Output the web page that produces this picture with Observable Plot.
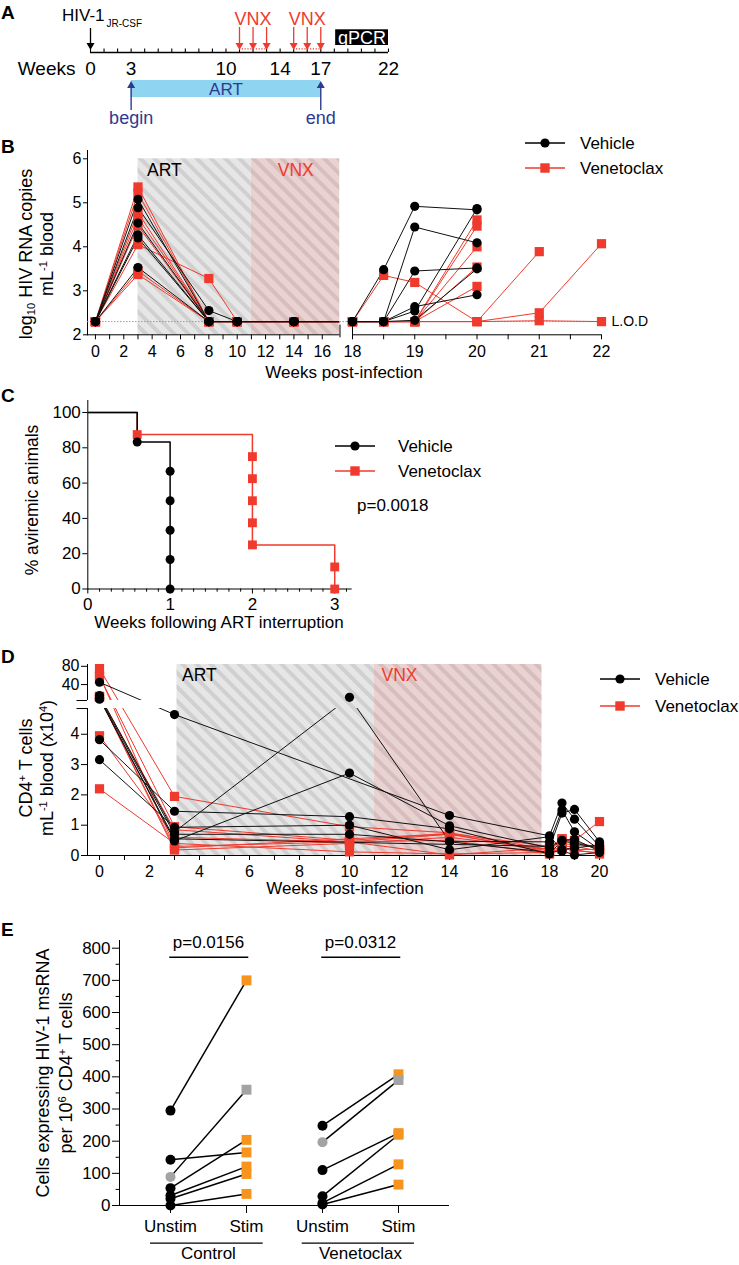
<!DOCTYPE html>
<html>
<head>
<meta charset="utf-8">
<script src="https://cdn.jsdelivr.net/npm/d3@7"></script>
<script src="https://cdn.jsdelivr.net/npm/@observablehq/plot@0.6"></script>
<style>
  html, body { margin: 0; padding: 0; background: #fff; }
  #page { position: relative; width: 739px; height: 1265px; overflow: hidden; background: #fff;
          font-family: "Liberation Sans", Arial, Helvetica, sans-serif; color: #000; }
  #page sup, #page sub { font-size: 0.62em; line-height: 0; position: relative; vertical-align: baseline; }
  #page sup { top: -0.55em; }
  #page sub { top: 0.3em; }
</style>
</head>
<body>
<div id="page"></div>
<script>
// ================= DATA =================
// ---- Panel A: study timeline (weeks) ----
const timelineTickWeeks = d3.range(0, 23);
const timelineLabelWeeks = [0, 3, 10, 14, 17, 22];
const infectionWeek = [0];
const vnxDoseWeeks = [11, 12, 13, 15, 16, 17];
const vnxCycles = [[11, 13], [15, 17]];
const artWindow = [3, 17];
const artWindowLabels = ["begin", "end"];
const qpcrWindow = [18.1, 22];

// ---- Panel B: log10 HIV RNA copies / mL blood ----
const bWeeks = [0, 3, 8, 10, 14, 18, 18.5, 19, 20, 21, 22];
const bVehicle = [
  [2.3, 5.08, 2.3, 2.3, 2.3, 2.3, 3.48, 4.92, 4.84, null, null],
  [2.3, 4.89, 2.55, 2.3, 2.3, 2.3, 2.3, 4.45, 4.09, null, null],
  [2.3, 4.54, 2.3, 2.3, 2.3, 2.3, 2.3, 3.45, 3.52, null, null],
  [2.3, 4.27, 2.3, 2.3, 2.3, 2.3, 2.3, 2.64, 2.91, null, null],
  [2.3, 4.20, 2.3, 2.3, 2.3, 2.3, 2.3, 2.54, 4.87, null, null],
  [2.3, 3.53, 2.3, 2.3, 2.3, 2.3, 2.3, 2.33, 3.50, null, null]
];
const bVenetoclax = [
  [2.3, 5.36, 2.3, 2.3, 2.3, 2.3, 2.3, 2.3, 4.61, null, null],
  [2.3, 5.22, 2.3, 2.3, 2.3, 2.3, 2.3, 2.3, 4.47, null, null],
  [2.3, 4.78, 2.3, 2.3, 2.3, 2.3, 2.3, 2.3, 4.00, null, null],
  [2.3, 4.66, 2.3, 2.3, 2.3, 2.3, 2.3, 2.3, 3.54, null, null],
  [2.3, 4.05, 3.28, 2.3, 2.3, 2.3, 2.3, 2.3, 3.10, null, null],
  [2.3, 4.48, 2.3, 2.3, 2.3, 2.3, 3.35, 3.19, 2.3, 2.32, 2.3],
  [2.3, 3.45, 2.3, 2.3, 2.3, 2.3, 2.3, 2.3, 2.3, 3.89, null],
  [2.3, 3.37, 2.3, 2.3, 2.3, 2.3, 2.3, 2.3, 2.3, 2.50, 4.07]
];
const bLOD = 2.3;
const bArtPeriod = [3, 11];
const bVnxPeriod = [11, 17.25];
const bYTicks = [2, 3, 4, 5, 6];
const bXTicks = [...d3.range(0, 17), ...d3.range(18, 22.01, 0.5)];

// ---- Panel C: % aviremic animals after ART interruption ----
const cVehicle = [[0, 100], [0.6, 83.3], [1, 66.7], [1, 50], [1, 33.3], [1, 16.7], [1, 0]];
const cVenetoclax = [[0, 100], [0.6, 87.5], [2, 75], [2, 62.5], [2, 50], [2, 37.5], [2, 25], [3, 12.5], [3, 0]];
const cXTicks = [0, 1, 2, 3];
const cYTicks = [0, 20, 40, 60, 80, 100];
const cDayTicks = d3.range(1, 23).filter(i => i % 7 !== 0).map(i => i / 7);
const cPValue = "p=0.0018";

// ---- Panel D: CD4+ T cells / mL blood (x10^4) ----
const dWeeks = [0, 3, 10, 14, 18, 18.5, 19, 20];
const dVehicle = [
  [45, 4.65, null, 1.32, 0.65, 1.73, 1.20, 0.30],
  [16, 0.78, 12, 0.47, 0.45, 1.50, 0.78, 0.20],
  [10, 0.48, 2.72, 0.98, 0.25, 1.40, 1.52, 0.45],
  [3.82, 1.46, 1.28, 0.88, 0.05, 0.50, 0.53, 0.15],
  [3.16, 0.93, 1.00, 0.19, 0.62, 0.20, 0.25, 0.35],
  [12, 0.70, 0.70, 0.45, 0.10, 0.15, 0.02, 0.10],
  [8, 0.55, null, null, 0.30, 0.48, 0.40, 0.25]
];
const dVenetoclax = [
  [75, 1.95, 0.95, 0.75, 0.20, 0.55, 0.50, 1.12],
  [58, 0.95, 0.50, 0.72, 0.10, 0.25, 0.20, 0.20],
  [14, 0.85, 0.45, 0.02, 0.25, 0.55, 0.45, 0.20],
  [3.95, 0.60, 0.45, 0.70, 0.15, 0.30, 0.30, 0.15],
  [2.2, 0.40, 0.12, 0.05, 0.10, 0.20, 0.20, 0.05],
  [13, 0.25, 0.55, 0.72, 0.30, 0.40, 0.35, 0.30],
  [12, 0.18, 0.40, 0.60, 0.20, 0.50, 0.45, 0.25],
  [60, 0.30, 0.45, 0.50, 0.05, 0.25, 0.15, 0.10]
];
const dArtPeriod = [3.1, 11];
const dVnxPeriod = [11, 17.7];
const dYTicks = [0, 1, 2, 3, 4, 40, 80];
const dXTicks = d3.range(0, 21);
const dBreak = [4.85, 5];

// ---- Panel E: cells expressing HIV-1 msRNA per 10^6 CD4+ T cells ----
const eCategories = ["Unstim", "Stim", "Unstim", "Stim"];
const eGroups = ["Control", "Venetoclax"];
const eControlUnstim = [295, 142, 89, 54, 31, 21, 0];
const eControlStim   = [700, 165, 360, 204, 121, 98, 36];
const eControlGrey   = [false, false, true, false, false, false, false];
const eVenUnstim = [248, 197, 110, 29, 8, 3];
const eVenStim   = [408, 390, 225, 220, 128, 65];
const eVenGrey   = [false, true, false, false, false, false];
const ePValues = ["p=0.0156", "p=0.0312"];
const eYTicks = d3.range(0, 801, 100);
const eYMinor = d3.range(50, 800, 100);

// ================= STYLE =================
const RED = "#ef3a2d", ORANGE = "#f7941d", GREYPT = "#a3a3a3", NAVY = "#2e3a8f", SKY = "#8fd4f1";
const FONT = '"Liberation Sans", Arial, Helvetica, sans-serif';
const page = document.getElementById("page");
const styleFor = (fs) => ({fontFamily: FONT, fontSize: fs + "px", background: "transparent", overflow: "visible", color: "#000"});
const fmt = d => String(d);

function place(svg, top) {
  svg.style.position = "absolute"; svg.style.left = "0px"; svg.style.top = top + "px";
  page.appendChild(svg); return svg;
}
function addText(html, x, y, o = {}) {
  const el = document.createElement("div");
  el.innerHTML = html;
  const size = o.size || 17;
  el.style.cssText = `position:absolute;left:${x}px;top:${y}px;font-size:${size}px;color:${o.color || "#000"};` +
    `font-weight:${o.weight || "normal"};line-height:${o.lineHeight || "1"};white-space:nowrap;`;
  if (o.rotate) { el.style.transform = "translate(-50%,-50%) rotate(-90deg)"; el.style.textAlign = "center"; }
  else {
    const tx = o.anchor === "middle" ? "-50%" : o.anchor === "end" ? "-100%" : "0";
    el.style.transform = `translate(${tx},-50%)`;
  }
  page.appendChild(el);
}
function addHatch(svg, id, bg, stripe) {
  const defs = d3.select(svg).insert("defs", ":first-child");
  const p = defs.append("pattern").attr("id", id).attr("patternUnits", "userSpaceOnUse")
    .attr("width", 10).attr("height", 10).attr("patternTransform", "rotate(-45)");
  p.append("rect").attr("width", 10).attr("height", 10).attr("fill", bg);
  p.append("rect").attr("width", 4).attr("height", 10).attr("fill", stripe);
}
function legendItem(cx, y, color, shape, label, textX) {
  const s = d3.create("svg").attr("width", 50).attr("height", 16)
    .style("position", "absolute").style("left", (cx - 25) + "px").style("top", (y - 8) + "px").style("overflow", "visible");
  s.append("line").attr("x1", 5).attr("x2", 45).attr("y1", 8).attr("y2", 8).attr("stroke", color).attr("stroke-width", 1.3);
  if (shape === "circle") s.append("circle").attr("cx", 25).attr("cy", 8).attr("r", 4.6).attr("fill", color);
  else s.append("rect").attr("x", 20.3).attr("y", 3.3).attr("width", 9.4).attr("height", 9.4).attr("fill", color);
  page.appendChild(s.node());
  addText(label, textX, y, {size: 17});
}
function tidy(weeks, animals, group) {
  const out = [];
  animals.forEach((vals, i) => vals.forEach((v, j) => {
    if (v != null) out.push({group, id: group + i, week: weeks[j], value: v});
  }));
  return out;
}
const triDown = {draw(ctx) { ctx.moveTo(0, 0); ctx.lineTo(-4, -7); ctx.lineTo(4, -7); ctx.closePath(); }};
const triUp = {draw(ctx) { ctx.moveTo(0, 0); ctx.lineTo(-4, 7); ctx.lineTo(4, 7); ctx.closePath(); }};
const mid = (d) => (d[0] + d[1]) / 2;

// ================= PANEL A =================
const aPlot = Plot.plot({
  width: 739, height: 128, margin: 0,
  x: {domain: [0, 22], range: [90, 388], axis: null},
  y: {domain: [0, 128], range: [0, 128], axis: null},
  style: styleFor(18),
  marks: [
    Plot.rect([artWindow], {x1: d => d[0], x2: d => d[1], y1: 80, y2: 97, fill: SKY}),
    Plot.text([artWindow], {x: mid, y: 89, text: () => "ART", fill: NAVY, fontSize: 17}),
    Plot.ruleX(artWindow, {x: d => d, y1: 110, y2: 86, stroke: NAVY, strokeWidth: 1.4}),
    Plot.dot(artWindow, {x: d => d, y: 80.5, symbol: triUp, fill: NAVY}),
    Plot.text(artWindow, {x: d => d, y: 118, text: (d, i) => artWindowLabels[i], fill: NAVY, fontSize: 18}),
    Plot.ruleY([52], {x1: 0, x2: 22, stroke: "#000", strokeWidth: 1.4}),
    Plot.ruleX(timelineTickWeeks, {x: d => d, y1: 48.5, y2: 52, stroke: "#000", strokeWidth: 1.1}),
    Plot.text(timelineLabelWeeks, {x: d => d, y: 68, text: d => String(d), fontSize: 19}),
    Plot.text(["Weeks"], {x: 0, y: 68, dx: -15, text: d => d, textAnchor: "end", fontSize: 19}),
    Plot.ruleX(infectionWeek, {x: d => d, y1: 28, y2: 43, stroke: "#000", strokeWidth: 1.3}),
    Plot.dot(infectionWeek, {x: d => d, y: 49.5, symbol: triDown, fill: "#000"}),
    Plot.ruleY(vnxCycles, {x1: d => d[0], x2: d => d[1], y: 48.3, stroke: RED, strokeWidth: 1.2, strokeDasharray: "1.2,1.6"}),
    Plot.ruleX(vnxDoseWeeks, {x: d => d, y1: 27, y2: 43, stroke: RED, strokeWidth: 1.3}),
    Plot.dot(vnxDoseWeeks, {x: d => d, y: 49.5, symbol: triDown, fill: RED}),
    Plot.text(vnxCycles, {x: mid, y: 18.5, text: () => "VNX", fill: RED, fontSize: 18}),
    Plot.rect([qpcrWindow], {x1: d => d[0], x2: d => d[1], y1: 29.3, y2: 45, fill: "#000"}),
    Plot.text([qpcrWindow], {x: mid, y: 37.5, text: () => "qPCR", fill: "#fff", fontSize: 18})
  ]
});
place(aPlot, 0);
addText("HIV-1<sub style='font-size:10px;top:0.55em;margin-left:2px'>JR-CSF</sub>", 62, 15, {size: 17});
addText("A", 1, 11.5, {size: 19, weight: "bold"});

// ================= PANEL B =================
const bVehTidy = tidy(bWeeks, bVehicle, "veh");
const bVenTidy = tidy(bWeeks, bVenetoclax, "ven");
const bTop = 120;
const bPlot = Plot.plot({
  width: 739, height: 260,
  marginTop: 30, marginLeft: 87, marginRight: 138, marginBottom: 260 - 214.3,
  style: styleFor(16),
  x: {type: "linear", domain: [-0.56, 17.25, 18, 22], range: [87, 339.5, 352, 601], ticks: bXTicks,
      tickFormat: d => (d <= 16 ? (d % 2 === 0 ? String(d) : "") : (Number.isInteger(d) ? String(d) : "")),
      tickSize: 5, tickPadding: 6, label: null},
  y: {domain: [2, 6], range: [214.3, 38.3], ticks: bYTicks, tickFormat: fmt, tickSize: 4, tickPadding: 2, label: null, line: true},
  marks: [
    Plot.rect([bArtPeriod], {x1: d => d[0], x2: d => d[1], y1: 2, y2: 6, fill: "url(#hatchGreyB)"}),
    Plot.rect([bVnxPeriod], {x1: d => d[0], x2: d => d[1], y1: 2, y2: 6, fill: "url(#hatchPinkB)"}),
    Plot.ruleY([bLOD], {x1: -0.56, x2: 22, stroke: "#9a9a9a", strokeDasharray: "1.5,1.5"}),
    Plot.line(bVenTidy, {x: "week", y: "value", z: "id", stroke: RED, strokeWidth: 1}),
    Plot.line(bVehTidy, {x: "week", y: "value", z: "id", stroke: "#111", strokeWidth: 1}),
    Plot.rect([[17.25, 18]], {x1: d => d[0], x2: d => d[1], y1: 2.03, y2: 6, fill: "#fff"}),
    Plot.ruleY([bLOD], {x1: 17.25, x2: 18, stroke: "#9a9a9a", strokeDasharray: "1.5,1.5"}),
    Plot.ruleY([2], {x1: -0.56, x2: 17.25, stroke: "#000"}),
    Plot.ruleY([2], {x1: 18, x2: 22, stroke: "#000"}),
    Plot.ruleX([17.25, 18], {x: d => d, y1: 1.93, y2: 2.22, stroke: "#000"}),
    Plot.dot(bVenTidy, {x: "week", y: "value", symbol: "square", r: 5.2, fill: RED}),
    Plot.dot(bVehTidy, {x: "week", y: "value", r: 4.6, fill: "#000"}),
    Plot.text(["ART"], {x: bArtPeriod[0], y: 6, dx: 9, dy: 12, text: d => d, textAnchor: "start", fontSize: 17.5}),
    Plot.text(["VNX"], {x: mid(bVnxPeriod), y: 6, dy: 12, text: d => d, fill: RED, fontSize: 17.5}),
    Plot.text(["L.O.D"], {x: 22, y: bLOD, dx: 10, text: d => d, textAnchor: "start", fontSize: 14})
  ]
});
addHatch(bPlot, "hatchGreyB", "#e6e6e6", "#d0d0d0");
addHatch(bPlot, "hatchPinkB", "#e9d2d2", "#d8bdbd");
place(bPlot, bTop);
addText("B", 1, 145.5, {size: 19, weight: "bold"});
addText("log<sub>10</sub> HIV RNA copies<br>mL<sup>-1</sup> blood", 36.5, 254, {size: 18, rotate: true, lineHeight: "21px"});
addText("Weeks post-infection", 344, 372, {size: 17, anchor: "middle"});
legendItem(545, 142.7, "#000", "circle", "Vehicle", 580);
legendItem(545, 168.3, RED, "square", "Venetoclax", 580);

// ================= PANEL C =================
const cTop = 380;
const cPlot = Plot.plot({
  width: 739, height: 250,
  marginTop: 20, marginLeft: 87.3, marginRight: 739 - 350.7, marginBottom: 250 - 208.5,
  style: styleFor(17),
  x: {domain: [0, 3.2], range: [87.3, 350.7], ticks: cXTicks, tickFormat: fmt, tickSize: 5, tickPadding: 4, label: null, line: true},
  y: {domain: [0, 100], range: [208.5, 32], ticks: cYTicks, tickFormat: fmt, tickSize: 5, tickPadding: 2, label: null, line: true},
  marks: [
    Plot.ruleX(cDayTicks, {x: d => d, y1: 0, y2: -1.8, stroke: "#000"}),
    Plot.line(cVenetoclax, {x: d => d[0], y: d => d[1], curve: "step-after", stroke: RED, strokeWidth: 1.5}),
    Plot.line(cVehicle, {x: d => d[0], y: d => d[1], curve: "step-after", stroke: "#000", strokeWidth: 1.5}),
    Plot.dot(cVenetoclax.slice(1), {x: d => d[0], y: d => d[1], symbol: "square", r: 5, fill: RED}),
    Plot.dot(cVehicle.slice(1), {x: d => d[0], y: d => d[1], r: 4.5, fill: "#000"})
  ]
});
place(cPlot, cTop);
addText("C", 1, 394.5, {size: 19, weight: "bold"});
addText("% aviremic animals", 33, 500, {size: 17.5, rotate: true});
addText("Weeks following ART interruption", 219, 622, {size: 17, anchor: "middle"});
legendItem(355, 446, "#000", "circle", "Vehicle", 398);
legendItem(355, 471, RED, "square", "Venetoclax", 398);
addText(cPValue, 357, 505, {size: 17});

// ================= PANEL D =================
const dVehTidy = tidy(dWeeks, dVehicle, "veh");
const dVenTidy = tidy(dWeeks, dVenetoclax, "ven");
const dTop = 640;
const dPlot = Plot.plot({
  width: 739, height: 245,
  marginTop: 24, marginLeft: 87, marginRight: 739 - 603, marginBottom: 245 - 215,
  style: styleFor(16),
  x: {domain: [-0.48, 20.16], range: [87, 603], ticks: dXTicks, tickFormat: d => (d % 2 === 0 ? String(d) : ""),
      tickSize: 5, tickPadding: 5, label: null, line: true},
  y: {type: "linear", domain: [0, 4.85, 5, 84], range: [215, 68, 60, 24], ticks: dYTicks, tickFormat: fmt, tickSize: 6, tickPadding: 2, label: null},
  marks: [
    Plot.rect([dArtPeriod], {x1: d => d[0], x2: d => d[1], y1: 0, y2: 84, fill: "url(#hatchGreyD)"}),
    Plot.rect([dVnxPeriod], {x1: d => d[0], x2: d => d[1], y1: 0, y2: 84, fill: "url(#hatchPinkD)"}),
    Plot.line(dVenTidy, {x: "week", y: "value", z: "id", stroke: RED, strokeWidth: 1}),
    Plot.line(dVehTidy, {x: "week", y: "value", z: "id", stroke: "#111", strokeWidth: 1}),
    Plot.rect([dBreak], {x1: -0.48, x2: 20.16, y1: d => d[0], y2: d => d[1], fill: "#fff"}),
    Plot.rect([dArtPeriod], {x1: d => d[0], x2: d => d[1], y1: dBreak[0], y2: dBreak[1], fill: "url(#hatchGreyD)"}),
    Plot.rect([dVnxPeriod], {x1: d => d[0], x2: d => d[1], y1: dBreak[0], y2: dBreak[1], fill: "url(#hatchPinkD)"}),
    Plot.ruleX([-0.48], {x: d => d, y1: 0, y2: dBreak[0], stroke: "#000"}),
    Plot.ruleX([-0.48], {x: d => d, y1: dBreak[1], y2: 84, stroke: "#000"}),
    Plot.ruleY(dBreak, {y: d => d, x1: -0.9, x2: -0.48, stroke: "#000"}),
    Plot.dot(dVenTidy, {x: "week", y: "value", symbol: "square", r: 5.2, fill: RED}),
    Plot.dot(dVehTidy, {x: "week", y: "value", r: 4.6, fill: "#000"}),
    Plot.text(["ART"], {x: dArtPeriod[0], y: 84, dx: 5, dy: 11, text: d => d, textAnchor: "start", fontSize: 17.5}),
    Plot.text(["VNX"], {x: dVnxPeriod[0], y: 84, dx: 7, dy: 11, text: d => d, textAnchor: "start", fill: RED, fontSize: 17.5})
  ]
});
addHatch(dPlot, "hatchGreyD", "#e6e6e6", "#d0d0d0");
addHatch(dPlot, "hatchPinkD", "#e9d2d2", "#d8bdbd");
place(dPlot, dTop);
addText("D", 1, 655.5, {size: 19, weight: "bold"});
addText("CD4<sup>+</sup> T cells<br>mL<sup>-1</sup> blood (x10<sup>4</sup>)", 36.5, 768, {size: 18, rotate: true, lineHeight: "21px"});
addText("Weeks post-infection", 345, 888, {size: 17, anchor: "middle"});
legendItem(620, 679.3, "#000", "circle", "Vehicle", 655);
legendItem(620, 705.7, RED, "square", "Venetoclax", 655);

// ================= PANEL E =================
const ePairs = [
  ...eControlUnstim.map((u, i) => ({x1: 1, y1: u, x2: 2, y2: eControlStim[i], grey: eControlGrey[i]})),
  ...eVenUnstim.map((u, i) => ({x1: 3, y1: u, x2: 4, y2: eVenStim[i], grey: eVenGrey[i]}))
];
const eTop = 920;
const ePlot = Plot.plot({
  width: 739, height: 345,
  marginTop: 20, marginLeft: 119, marginRight: 739 - 448, marginBottom: 345 - 285,
  style: styleFor(17),
  x: {domain: [0.329, 4.658], range: [119, 448], ticks: [1, 2, 3, 4], tickFormat: d => eCategories[d - 1],
      tickSize: 8, tickPadding: 6, label: null, line: true},
  y: {domain: [0, 800], range: [285, 27.7], ticks: eYTicks, tickFormat: fmt, tickSize: 7, tickPadding: 2, label: null, line: true},
  marks: [
    Plot.ruleY(eYMinor, {y: d => d, x1: 0.329 - 0.045, x2: 0.329, stroke: "#000"}),
    Plot.link(ePairs, {x1: "x1", y1: "y1", x2: "x2", y2: "y2", stroke: "#000", strokeWidth: 1.5}),
    Plot.dot(ePairs.filter(d => !d.grey), {x: "x1", y: "y1", r: 5, fill: "#000"}),
    Plot.dot(ePairs.filter(d => d.grey), {x: "x1", y: "y1", r: 5, fill: GREYPT}),
    Plot.dot(ePairs.filter(d => !d.grey), {x: "x2", y: "y2", symbol: "square", r: 5.6, fill: ORANGE}),
    Plot.dot(ePairs.filter(d => d.grey), {x: "x2", y: "y2", symbol: "square", r: 5.6, fill: GREYPT}),
    Plot.ruleY([[1, 2.03], [3, 4.03]], {y: 772, x1: d => d[0] - 0.01, x2: d => d[1], stroke: "#000", strokeWidth: 1.5}),
    Plot.text([1.5, 3.5], {x: d => d, y: 772, dy: -15, text: (d, i) => ePValues[i], fontSize: 17}),
    Plot.ruleY([[0.737, 2.22], [2.733, 4.21]], {y: 0, x1: d => d[0], x2: d => d[1], dy: 37.7, stroke: "#000", strokeWidth: 1.2}),
    Plot.text([1.5, 3.5], {x: d => d, y: 0, dy: 48, text: (d, i) => eGroups[i], fontSize: 17})
  ]
});
place(ePlot, eTop);
addText("E", 1, 928.5, {size: 19, weight: "bold"});
addText("Cells expressing HIV-1 msRNA<br>per 10<sup>6</sup> CD4<sup>+</sup> T cells", 54.5, 1073, {size: 18, rotate: true, lineHeight: "23px"});
</script>
</body>
</html>
